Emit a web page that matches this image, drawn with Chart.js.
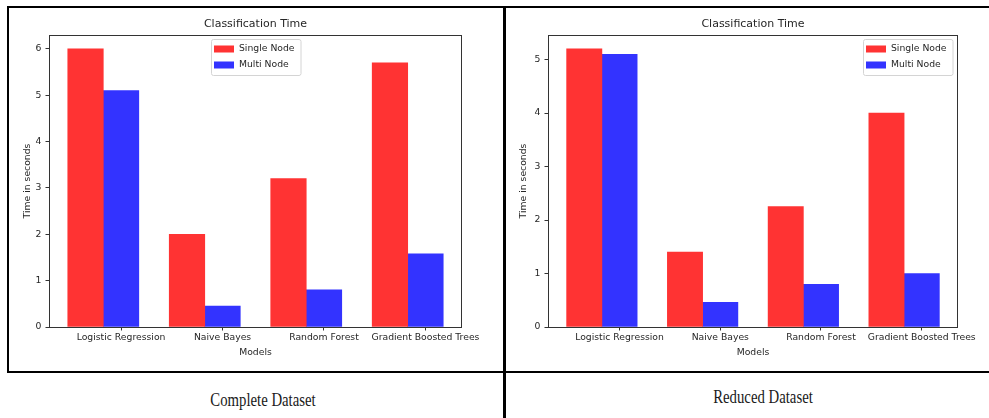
<!DOCTYPE html>
<html>
<head>
<meta charset="utf-8">
<script src="https://cdn.jsdelivr.net/npm/chart.js@4.4.0/dist/chart.umd.min.js"></script>
<style>
  html, body { margin: 0; padding: 0; background: #fff; }
  body { position: relative; width: 989px; height: 418px; overflow: hidden; }
  .rule { position: absolute; background: #000; }
  .panel { position: absolute; }
  .caption {
    position: absolute; width: 300px; text-align: center;
    font-family: "Liberation Serif", "Times New Roman", serif;
    font-size: 18px; line-height: 18px; color: #1a1a1a;
    transform: scaleX(0.82); transform-origin: center;
    white-space: nowrap;
  }
</style>
</head>
<body>
<!-- frame lines around the two panels -->
<div class="rule" style="left:7px;top:6px;width:982px;height:2px"></div>
<div class="rule" style="left:7px;top:6px;width:2px;height:367px"></div>
<div class="rule" style="left:7px;top:371px;width:982px;height:2px"></div>
<div class="rule" style="left:503px;top:6px;width:3px;height:412px"></div>

<div class="panel" style="left:9px;top:8px;width:494px;height:363px">
  <canvas id="complete" width="494" height="363"></canvas>
</div>
<div class="panel" style="left:506px;top:8px;width:483px;height:363px">
  <canvas id="reduced" width="483" height="363"></canvas>
</div>

<div class="caption" style="left:113px;top:391px">Complete Dataset</div>
<div class="caption" style="left:613px;top:388px">Reduced Dataset</div>

<script>
// Classification time per model, in seconds
const categories = ['Logistic Regression', 'Naive Bayes', 'Random Forest', 'Gradient Boosted Trees'];
const seriesNames = ['Single Node', 'Multi Node'];
const completeSingle = [6.0, 2.0, 3.2, 5.7];
const completeMulti  = [5.1, 0.45, 0.8, 1.58];
const reducedSingle  = [5.2, 1.4, 2.25, 4.0];
const reducedMulti   = [5.1, 0.46, 0.8, 1.0];

const RED = 'rgb(255, 51, 51)';
const BLUE = 'rgb(51, 51, 255)';
const TEXT = '#262626';
const BAR_W = 0.35;   // bar width in category units

Chart.defaults.font.family = '"DejaVu Sans", sans-serif';
Chart.defaults.color = TEXT;

// Thin box around the plotting area
const axesFrame = {
  id: 'axesFrame',
  afterDatasetsDraw(chart) {
    const { ctx, chartArea: a } = chart;
    ctx.save();
    ctx.strokeStyle = '#333';
    ctx.lineWidth = 1;
    ctx.strokeRect(a.left + 0.5, a.top + 0.5, a.right - a.left - 1, a.bottom - a.top);
    ctx.restore();
  }
};

// Legend boxed inside the plotting area
const insetLegend = {
  id: 'insetLegend',
  afterDraw(chart, args, opts) {
    const { ctx, chartArea: a } = chart;
    const items = chart.data.datasets.map(d => ({ text: d.label, color: d.backgroundColor }));
    ctx.save();
    ctx.font = '9.25px "DejaVu Sans", sans-serif';
    const textW = Math.max(...items.map(it => ctx.measureText(it.text).width));
    const w = 28 + textW + 6;
    const h = 36;
    const x = opts.align === 'center' ? Math.round((a.left + a.right) / 2 - w / 2) : Math.round(a.right - 5 - w);
    const y = Math.round(a.top + 4);
    ctx.fillStyle = 'rgba(255,255,255,0.85)';
    ctx.strokeStyle = '#d4d4d4';
    ctx.lineWidth = 1;
    ctx.beginPath();
    ctx.roundRect(x + 0.5, y + 0.5, w, h, 2);
    ctx.fill();
    ctx.stroke();
    items.forEach((it, i) => {
      const cy = y + 10 + i * 16;
      ctx.fillStyle = it.color;
      ctx.fillRect(x + 3, cy - 3.5, 20, 7);
      ctx.fillStyle = TEXT;
      ctx.textBaseline = 'middle';
      ctx.textAlign = 'left';
      ctx.fillText(it.text, x + 28, cy);
    });
    ctx.restore();
  }
};

function drawPanel(canvasId, single, multi, frame) {
  const n = categories.length;
  const lo = -BAR_W / 2;
  const hi = (n - 1) + BAR_W + BAR_W / 2;
  const xMargin = 0.05 * (hi - lo);
  const yMax = 1.05 * Math.max(...single, ...multi);

  new Chart(document.getElementById(canvasId), {
    type: 'bar',
    data: {
      datasets: [
        { label: seriesNames[0], backgroundColor: RED, borderWidth: 0,
          data: single.map((v, i) => ({ x: i, y: v })) },
        { label: seriesNames[1], backgroundColor: BLUE, borderWidth: 0,
          data: multi.map((v, i) => ({ x: i + BAR_W, y: v })) }
      ]
    },
    options: {
      responsive: false,
      animation: false,
      events: [],
      grouped: false,
      categoryPercentage: 1,
      barPercentage: 1,
      layout: { padding: { left: 0, top: 0, bottom: 0, right: frame.padRight } },
      plugins: {
        legend: { display: false },
        tooltip: { enabled: false },
        title: {
          display: true, text: 'Classification Time', fullSize: false,
          color: TEXT, font: { size: 11, weight: 'normal' },
          padding: { top: 9.4, bottom: 4.4 }
        },
        insetLegend: { align: frame.legendAlign }
      },
      scales: {
        x: {
          type: 'linear',
          min: lo - xMargin,
          max: hi + xMargin,
          offset: false,
          grid: { display: true, drawOnChartArea: false, drawTicks: true, tickLength: 3.5, tickColor: '#333', offset: false },
          border: { display: false },
          afterBuildTicks: s => { s.ticks = categories.map((_, i) => ({ value: i + BAR_W })); },
          afterFit: s => { s.height = 44; },
          ticks: {
            autoSkip: false, maxRotation: 0, minRotation: 0, padding: 2,
            font: { size: 9.25 }, color: TEXT,
            callback: (v, i) => categories[i]
          },
          title: { display: true, text: 'Models', font: { size: 9.25 }, color: TEXT, padding: { top: 0, bottom: 12.45 } }
        },
        y: {
          min: 0,
          max: yMax,
          grid: { display: true, drawOnChartArea: false, drawTicks: true, tickLength: 3.5, tickColor: '#333' },
          border: { display: false },
          afterFit: s => { s.width = frame.yWidth; },
          ticks: { stepSize: 1, includeBounds: false, padding: 4, font: { size: 9.25 }, color: TEXT },
          title: { display: true, text: 'Time in seconds', font: { size: 9.25 }, color: TEXT,
                   padding: { top: frame.yTitlePad, bottom: 0 } }
        }
      }
    },
    plugins: [axesFrame, insetLegend]
  });
}

drawPanel('complete', completeSingle, completeMulti, { padRight: 41, yWidth: 40, yTitlePad: 13.45, legendAlign: 'center' });
drawPanel('reduced', reducedSingle, reducedMulti, { padRight: 31, yWidth: 42, yTitlePad: 11.75, legendAlign: 'right' });
</script>
</body>
</html>
